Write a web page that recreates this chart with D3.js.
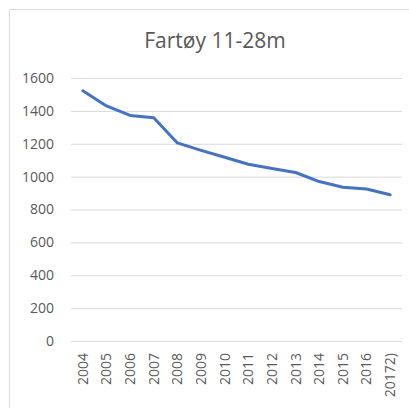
<!DOCTYPE html>
<html>
<head>
<meta charset="utf-8">
<script src="https://cdn.jsdelivr.net/npm/d3@7"></script>
<style>
  body { margin: 0; background: #fff; }
  svg text { font-family: "Open Sans", sans-serif; fill: #595959; }
</style>
</head>
<body>
<div id="chart"></div>
<script>
"use strict";

var years  = ["2004", "2005", "2006", "2007", "2008", "2009", "2010", "2011", "2012", "2013", "2014", "2015", "2016", "20172)"];
var values = [1522, 1430, 1372, 1358, 1205, 1160, 1118, 1075, 1050, 1025, 970, 935, 925, 890];
var yTicks = [0, 200, 400, 600, 800, 1000, 1200, 1400, 1600];
var title  = "Fartøy 11-28m";

var width  = 409;
var height = 408;
var plot   = { left: 71, right: 402, top: 78, bottom: 341 };

var svg = d3.select("#chart").append("svg")
  .attr("width", width)
  .attr("height", height);

// outer chart frame (only top + left edges fall inside the picture)
svg.append("path")
  .attr("d", "M9.5," + height + "V9.5H" + width)
  .attr("fill", "none")
  .attr("stroke", "#d9d9d9");

svg.append("text")
  .attr("x", 215)
  .attr("y", 48)
  .attr("text-anchor", "middle")
  .style("font-size", "21px")
  .text(title);

var x = d3.scaleBand()
  .domain(years)
  .range([plot.left, plot.right]);

var y = d3.scaleLinear()
  .domain([0, 1600])
  .range([plot.bottom, plot.top]);

// gridlines + y labels
var yAxis = svg.append("g")
  .attr("transform", "translate(" + plot.left + ",0)")
  .call(d3.axisLeft(y)
    .tickValues(yTicks)
    .tickFormat(d3.format("d"))
    .tickSize(-(plot.right - plot.left))
    .tickPadding(17));

yAxis.select(".domain").remove();
yAxis.selectAll("line").attr("stroke", "#d9d9d9");
yAxis.selectAll("text")
  .style("font-size", "14px")
  .attr("fill", "#595959");

// x labels, rotated
var xAxis = svg.append("g")
  .attr("transform", "translate(0," + plot.bottom + ")")
  .call(d3.axisBottom(x).tickSize(0));

xAxis.select(".domain").remove();
xAxis.selectAll("text")
  .style("font-size", "14px")
  .attr("fill", "#595959")
  .attr("text-anchor", "end")
  .attr("transform", "rotate(-90)")
  .attr("x", -12)
  .attr("y", 0)
  .attr("dy", "0.35em");

var line = d3.line()
  .x(function(d, i) { return x(years[i]) + x.bandwidth() / 2; })
  .y(function(d) { return y(d); });

svg.append("path")
  .datum(values)
  .attr("fill", "none")
  .attr("stroke", "#4472c4")
  .attr("stroke-width", 3)
  .attr("stroke-linejoin", "round")
  .attr("stroke-linecap", "round")
  .attr("d", line);
</script>
</body>
</html>
